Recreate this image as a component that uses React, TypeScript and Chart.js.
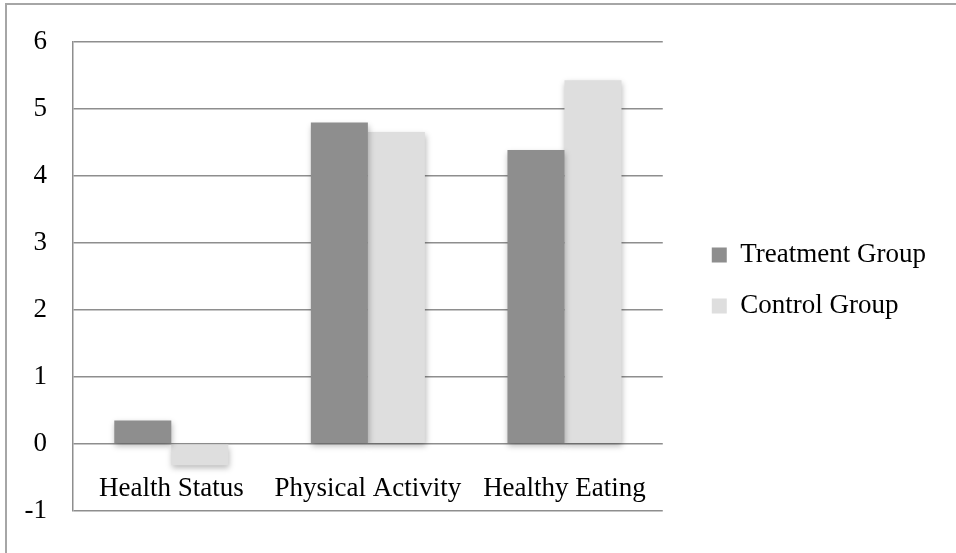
import React, { useEffect, useRef } from "react";
import { Chart, registerables } from "chart.js";

Chart.register(...registerables);

const categories = ["Health Status", "Physical Activity", "Healthy Eating"];
const seriesNames = ["Treatment Group", "Control Group"];
const treatmentValues = [0.35, 4.8, 4.39];
const controlValues = [-0.32, 4.66, 5.43];
const yMin = -1;
const yMax = 6;
const yStep = 1;

const FONT = "'Liberation Serif', 'Times New Roman', serif";
const FONT_SIZE = 27;

const frame = {
  id: "frame",
  beforeDraw(chart: any) {
    const ctx = chart.ctx;
    ctx.save();
    ctx.fillStyle = "#fff";
    ctx.fillRect(0, 0, chart.width, chart.height);
    ctx.strokeStyle = "#a6a6a6";
    ctx.lineWidth = 2;
    ctx.beginPath();
    ctx.moveTo(6, chart.height + 5);
    ctx.lineTo(6, 4);
    ctx.lineTo(chart.width + 5, 4);
    ctx.stroke();
    ctx.restore();
  },
};

const shadow = {
  id: "barShadow",
  beforeDatasetsDraw(chart: any) {
    const ctx = chart.ctx;
    ctx.save();
    ctx.shadowColor = "rgba(0,0,0,0.28)";
    ctx.shadowBlur = 6;
    ctx.shadowOffsetX = 1;
    ctx.shadowOffsetY = 3;
  },
  afterDatasetsDraw(chart: any) {
    chart.ctx.restore();
  },
};

export default function App() {
  const ref = useRef<HTMLCanvasElement>(null);
  useEffect(() => {
    document.body.style.margin = "0";
    const chart = new Chart(ref.current!, {
      type: "bar",
      data: {
        labels: categories,
        datasets: [
          {
            label: seriesNames[0],
            data: treatmentValues,
            backgroundColor: "#8e8e8e",
            borderWidth: 0,
          },
          {
            label: seriesNames[1],
            data: controlValues,
            backgroundColor: "#dedede",
            borderWidth: 0,
          },
        ],
      },
      options: {
        responsive: false,
        animation: false,
        layout: { padding: { left: 0, top: 39, bottom: 31, right: 20 } },
        datasets: { bar: { barPercentage: 1, categoryPercentage: 0.58 } },
        plugins: {
          tooltip: { enabled: false },
          legend: {
            position: "right",
            maxWidth: 400,
            labels: {
              boxWidth: 15,
              boxHeight: 15,
              padding: 24,
              color: "#000",
              font: { family: FONT, size: FONT_SIZE },
            },
          },
        },
        scales: {
          x: {
            position: { y: 0 } as any,
            grid: { display: false },
            border: { display: false },
            ticks: {
              color: "#000",
              padding: 21,
              maxRotation: 0,
              autoSkip: false,
              font: { family: FONT, size: FONT_SIZE },
            },
            afterFit: (s: any) => {
              s.height = 0;
            },
          },
          y: {
            min: yMin,
            max: yMax,
            ticks: {
              stepSize: yStep,
              color: "#000",
              padding: 26,
              font: { family: FONT, size: FONT_SIZE },
            },
            grid: { color: "#8e8e8e", lineWidth: 1.5, drawTicks: false },
            border: { display: true, color: "#8e8e8e", width: 1.5 },
            afterFit: (s: any) => {
              s.width = 73;
            },
          },
          spacer: {
            type: "linear",
            position: "right",
            display: true,
            grid: { display: false },
            border: { display: false },
            ticks: { display: false },
            afterFit: (s: any) => {
              s.width = 25;
            },
          },
        },
      },
      plugins: [frame, shadow],
    });
    return () => chart.destroy();
  }, []);
  return (
    <canvas
      ref={ref}
      width={956}
      height={553}
      style={{ display: "block", width: 956, height: 553 }}
    />
  );
}
